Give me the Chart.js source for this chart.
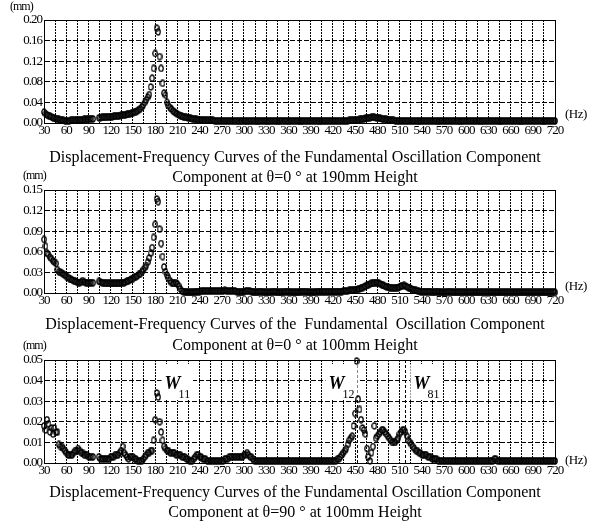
<!DOCTYPE html>
<html>
<head>
<meta charset="utf-8">
<script src="https://cdn.jsdelivr.net/npm/chart.js@4/dist/chart.umd.min.js"></script>
<style>
  body { margin: 0; background: #fff; }
  #wrap { position: relative; width: 591px; height: 522px; overflow: hidden; }
  #wrap canvas { position: absolute; left: 0; }
</style>
</head>
<body>
<div id="wrap">
  <canvas id="c190" width="591" height="190" style="top:0px"></canvas>
  <canvas id="c100" width="591" height="190" style="top:170px"></canvas>
  <canvas id="c90" width="591" height="182" style="top:340px"></canvas>
</div>
<script>
// frequency sweep, 30 to 720 Hz in 2 Hz steps
let freqHz = []
for (let f = 30; f <= 720; f += 2) freqHz.push(f)

// displacement (mm), theta = 0 deg, 190 mm height
let amp190 = [
  0.021, 0.018, 0.016, 0.014, 0.013, 0.012, 0.010, 0.009, 0.008, 0.008, // 30
  0.007, 0.006, 0.005, 0.005, 0.004, 0.004, 0.004, 0.004, 0.005, 0.005, // 50
  0.005, 0.005, 0.005, 0.006, 0.006, 0.006, 0.006, 0.007, 0.007, 0.007, // 70
  0.007, 0.008, 0.008, 0.008, null, null, null, 0.010, 0.010, 0.011,     // 90
  0.011, 0.011, 0.011, 0.012, 0.012, 0.012, 0.012, 0.013, 0.013, 0.013, // 110
  0.014, 0.014, 0.015, 0.015, 0.016, 0.016, 0.017, 0.017, 0.018, 0.019, // 130
  0.020, 0.021, 0.022, 0.024, 0.026, 0.028, 0.031, 0.035, 0.040, 0.045, // 150
  0.050, 0.055, 0.070, 0.087, 0.106, 0.135, 0.184, 0.177, 0.129, 0.106, // 170
  0.077, 0.058, 0.054, 0.040, 0.034, 0.030, 0.027, 0.024, 0.021, 0.019, // 190
  0.017, 0.016, 0.014, 0.013, 0.012, 0.011, 0.011, 0.010, 0.010, 0.009, // 210
  0.008, 0.008, 0.007, 0.007, 0.006, 0.006, 0.006, 0.005, 0.005, 0.005, // 230
  0.005, 0.005, 0.005, 0.005, 0.005, 0.004, 0.004, 0.004, 0.004, 0.004, // 250
  0.004, 0.004, 0.004, 0.004, 0.004, 0.004, 0.004, 0.004, 0.004, 0.004, // 270
  0.004, 0.004, 0.003, 0.004, 0.004, 0.004, 0.004, 0.003, 0.004, 0.004, // 290
  0.004, 0.004, 0.004, 0.004, 0.003, 0.004, 0.004, 0.004, 0.004, 0.004, // 310
  0.004, 0.003, 0.004, 0.004, 0.004, 0.004, 0.004, 0.004, 0.003, 0.004, // 330
  0.004, 0.004, 0.004, 0.004, 0.004, 0.003, 0.004, 0.004, 0.004, 0.004, // 350
  0.004, 0.004, 0.004, 0.003, 0.004, 0.004, 0.004, 0.004, 0.004, 0.004, // 370
  0.004, 0.004, 0.004, 0.004, 0.004, 0.004, 0.003, 0.004, 0.004, 0.004, // 390
  0.004, 0.004, 0.004, 0.004, 0.004, 0.004, 0.004, 0.004, 0.004, 0.004, // 410
  0.004, 0.004, 0.004, 0.004, 0.004, 0.004, 0.005, 0.005, 0.005, 0.005, // 430
  0.005, 0.005, 0.006, 0.007, 0.007, 0.008, 0.008, 0.009, 0.009, 0.010, // 450
  0.010, 0.011, 0.011, 0.011, 0.010, 0.010, 0.009, 0.009, 0.008, 0.008, // 470
  0.007, 0.007, 0.006, 0.006, 0.005, 0.005, 0.005, 0.004, 0.004, 0.004, // 490
  0.004, 0.004, 0.004, 0.004, 0.004, 0.004, 0.004, 0.004, 0.004, 0.004, // 510
  0.004, 0.004, 0.004, 0.003, 0.004, 0.004, 0.004, 0.004, 0.004, 0.004, // 530
  0.004, 0.004, 0.004, 0.004, 0.004, 0.004, 0.003, 0.004, 0.004, 0.004, // 550
  0.004, 0.004, 0.004, 0.004, 0.004, 0.004, 0.004, 0.004, 0.004, 0.004, // 570
  0.004, 0.003, 0.004, 0.004, 0.004, 0.004, 0.004, 0.004, 0.004, 0.004, // 590
  0.004, 0.004, 0.004, 0.004, 0.004, 0.003, 0.004, 0.004, 0.004, 0.004, // 610
  0.004, 0.004, 0.004, 0.004, 0.004, 0.004, 0.004, 0.004, 0.003, 0.004, // 630
  0.004, 0.004, 0.004, 0.004, 0.004, 0.004, 0.004, 0.004, 0.004, 0.004, // 650
  0.004, 0.004, 0.003, 0.004, 0.004, 0.004, 0.004, 0.004, 0.004, 0.004, // 670
  0.004, 0.004, 0.004, 0.004, 0.004, 0.004, 0.004, 0.003, 0.004, 0.004, // 690
  0.004, 0.004, 0.004, 0.004, 0.004, 0.004                              // 710
]

// displacement (mm), theta = 0 deg, 100 mm height
let amp100 = [
  0.078, 0.068, 0.058, 0.056, 0.052, 0.050, 0.047, 0.045, 0.043, 0.034, // 30
  0.031, 0.030, 0.029, 0.027, 0.026, 0.024, 0.023, 0.021, 0.020, 0.019, // 50
  0.018, 0.017, 0.016, 0.015, 0.015, 0.016, 0.018, 0.016, 0.015, 0.015, // 70
  0.015, 0.015, 0.015, 0.015, null, null, null, 0.017, 0.016, 0.015,     // 90
  0.015, 0.014, 0.014, 0.014, 0.014, 0.014, 0.014, 0.014, 0.014, 0.014, // 110
  0.014, 0.014, 0.015, 0.015, 0.015, 0.016, 0.017, 0.018, 0.019, 0.020, // 130
  0.021, 0.023, 0.024, 0.025, 0.027, 0.028, 0.031, 0.034, 0.037, 0.040, // 150
  0.045, 0.051, 0.058, 0.066, 0.081, 0.100, 0.137, 0.133, 0.093, 0.072, // 170
  0.053, 0.038, 0.031, 0.026, 0.022, 0.018, 0.015, 0.014, 0.014, 0.015, // 190
  0.013, 0.010, 0.006, 0.003, 0.002, 0.002, 0.001, 0.001, 0.001, 0.001, // 210
  0.001, 0.001, 0.002, 0.002, 0.002, 0.002, 0.003, 0.003, 0.003, 0.003, // 230
  0.003, 0.003, 0.003, 0.003, 0.003, 0.003, 0.003, 0.003, 0.003, 0.003, // 250
  0.003, 0.003, 0.004, 0.003, 0.003, 0.003, 0.003, 0.003, 0.003, 0.003, // 270
  0.002, 0.002, 0.001, 0.001, 0.002, 0.002, 0.003, 0.003, 0.003, 0.003, // 290
  0.002, 0.002, 0.001, 0.001, 0.001, 0.002, 0.002, 0.002, 0.001, 0.001, // 310
  0.001, 0.001, 0.001, 0.001, 0.002, 0.002, 0.002, 0.001, 0.001, 0.001, // 330
  0.001, 0.001, 0.002, 0.002, 0.002, 0.002, 0.001, 0.001, 0.001, 0.001, // 350
  0.001, 0.001, 0.001, 0.002, 0.002, 0.002, 0.002, 0.002, 0.001, 0.001, // 370
  0.001, 0.001, 0.001, 0.001, 0.002, 0.002, 0.002, 0.002, 0.002, 0.002, // 390
  0.002, 0.002, 0.002, 0.002, 0.002, 0.002, 0.002, 0.002, 0.002, 0.002, // 410
  0.002, 0.002, 0.003, 0.003, 0.003, 0.003, 0.004, 0.004, 0.004, 0.004, // 430
  0.005, 0.005, 0.006, 0.006, 0.007, 0.008, 0.009, 0.010, 0.011, 0.012, // 450
  0.013, 0.014, 0.014, 0.015, 0.015, 0.015, 0.014, 0.013, 0.012, 0.011, // 470
  0.010, 0.009, 0.009, 0.008, 0.008, 0.007, 0.007, 0.007, 0.008, 0.008, // 490
  0.009, 0.010, 0.010, 0.011, 0.010, 0.009, 0.008, 0.007, 0.006, 0.005, // 510
  0.004, 0.004, 0.003, 0.003, 0.002, 0.002, 0.002, 0.002, 0.002, 0.002, // 530
  0.002, 0.002, 0.001, 0.001, 0.002, 0.002, 0.002, 0.001, 0.001, 0.001, // 550
  0.001, 0.001, 0.001, 0.002, 0.002, 0.001, 0.001, 0.001, 0.001, 0.001, // 570
  0.001, 0.001, 0.001, 0.001, 0.001, 0.001, 0.001, 0.001, 0.001, 0.001, // 590
  0.001, 0.001, 0.001, 0.001, 0.001, 0.001, 0.001, 0.001, 0.001, 0.001, // 610
  0.001, 0.001, 0.001, 0.001, 0.001, 0.001, 0.001, 0.001, 0.001, 0.001, // 630
  0.001, 0.001, 0.001, 0.001, 0.001, 0.001, 0.001, 0.001, 0.001, 0.001, // 650
  0.001, 0.001, 0.001, 0.001, 0.001, 0.001, 0.001, 0.001, 0.001, 0.001, // 670
  0.001, 0.001, 0.001, 0.001, 0.001, 0.001, 0.001, 0.001, 0.001, 0.001, // 690
  0.001, 0.001, 0.001, 0.001, 0.001, 0.001                              // 710
]

// displacement (mm), theta = 90 deg, 100 mm height
let amp100t90 = [
  0.018, 0.016, 0.021, 0.019, 0.015, 0.017, 0.014, 0.017, 0.015, 0.015, // 30
  0.009, 0.008, 0.008, 0.007, 0.006, 0.005, 0.004, 0.004, 0.004, 0.004, // 50
  0.005, 0.006, 0.006, 0.007, 0.006, 0.005, 0.005, 0.004, 0.004, 0.004, // 70
  0.003, 0.003, 0.003, 0.003, null, null, null, 0.003, 0.002, 0.002,     // 90
  0.002, 0.002, 0.002, 0.002, 0.002, 0.003, 0.003, 0.003, 0.004, 0.004, // 110
  0.004, 0.005, 0.006, 0.008, 0.005, 0.004, 0.003, 0.002, 0.003, 0.003, // 130
  0.003, 0.002, 0.002, 0.001, 0.001, 0.001, 0.001, 0.002, 0.003, 0.004, // 150
  0.005, 0.005, 0.006, 0.006, 0.011, 0.021, 0.034, 0.032, 0.020, 0.015, // 170
  0.011, 0.008, 0.007, 0.006, 0.006, 0.005, 0.005, 0.005, 0.005, 0.004, // 190
  0.004, 0.004, 0.004, 0.003, 0.003, 0.003, 0.002, 0.002, 0.001, 0.001, // 210
  0.001, 0.002, 0.003, 0.004, 0.004, 0.003, 0.003, 0.002, 0.002, 0.002, // 230
  0.001, 0.001, 0.001, 0.001, 0.001, 0.001, 0.001, 0.001, 0.001, 0.001, // 250
  0.001, 0.001, 0.002, 0.002, 0.002, 0.003, 0.003, 0.003, 0.003, 0.003, // 270
  0.003, 0.003, 0.003, 0.003, 0.003, 0.004, 0.004, 0.005, 0.004, 0.003, // 290
  0.003, 0.002, 0.001, 0.001, 0.001, 0.001, 0.001, 0.001, 0.001, 0.001, // 310
  0.001, 0.001, 0.001, 0.001, 0.001, 0.001, 0.001, 0.001, 0.001, 0.001, // 330
  0.001, 0.001, 0.001, 0.001, 0.001, 0.001, 0.001, 0.001, 0.001, 0.001, // 350
  0.001, 0.001, 0.001, 0.001, 0.001, 0.001, 0.001, 0.001, 0.001, 0.001, // 370
  0.001, 0.001, 0.001, 0.001, 0.001, 0.001, 0.001, 0.001, 0.001, 0.001, // 390
  0.001, 0.001, 0.001, 0.001, 0.001, 0.001, 0.001, 0.001, 0.002, 0.002, // 410
  0.003, 0.004, 0.005, 0.006, 0.007, 0.009, 0.011, 0.012, 0.013, 0.018, // 430
  0.024, 0.0495, 0.031, 0.026, 0.021, 0.017, 0.016, 0.014, 0.007, 0.003, // 450
  0.001, 0.005, 0.008, 0.018, 0.012, 0.013, 0.014, 0.015, 0.016, 0.016, // 470
  0.015, 0.014, 0.013, 0.012, 0.011, 0.010, 0.010, 0.010, 0.011, 0.012, // 490
  0.014, 0.015, 0.016, 0.016, 0.015, 0.013, 0.011, 0.010, 0.009, 0.008, // 510
  0.007, 0.006, 0.006, 0.005, 0.005, 0.004, 0.004, 0.004, 0.004, 0.003, // 530
  0.003, 0.003, 0.002, 0.002, 0.002, 0.002, 0.001, 0.001, 0.001, 0.001, // 550
  0.001, 0.001, 0.001, 0.001, 0.001, 0.001, 0.001, 0.001, 0.001, 0.001, // 570
  0.001, 0.001, 0.001, 0.001, 0.001, 0.001, 0.001, 0.001, 0.001, 0.001, // 590
  0.001, 0.001, 0.001, 0.001, 0.001, 0.001, 0.001, 0.001, 0.001, 0.001, // 610
  0.001, 0.001, 0.001, 0.001, 0.002, 0.002, 0.001, 0.001, 0.001, 0.001, // 630
  0.001, 0.001, 0.001, 0.001, 0.001, 0.001, 0.001, 0.001, 0.001, 0.001, // 650
  0.001, 0.001, 0.001, 0.001, 0.001, 0.001, 0.001, 0.001, 0.001, 0.001, // 670
  0.001, 0.001, 0.001, 0.001, 0.001, 0.001, 0.001, 0.001, 0.001, 0.001, // 690
  0.001, 0.001, 0.001, 0.001, 0.001, 0.001                              // 710
]

// mode peaks marked on the theta = 90 plot
let modeNames = ['11', '12', '81']
let modeFreqs = [182, 452, 518]
let modeSide = ['right', 'left', 'right']
let modeLineFreqs = [452, 518]

let serif = '"Liberation Serif", "Times New Roman", serif'

// open "o" marker, a little taller than wide
let ring = document.createElement('canvas')
ring.width = 6
ring.height = 8
let rc = ring.getContext('2d')
rc.strokeStyle = '#000'
rc.lineWidth = 1.3
rc.beginPath()
rc.ellipse(3, 4, 2.2, 3.0, 0, 0, Math.PI * 2)
rc.stroke()

let decor = {
  id: 'decor',
  beforeDraw(chart) {
    // tight digits on the axes
    chart.ctx.letterSpacing = '-1px'
  },
  beforeDatasetsDraw(chart, args, o) {
    let ctx = chart.ctx
    let a = chart.chartArea
    let x = chart.scales.x
    ctx.save()
    ctx.letterSpacing = '0px'
    ctx.strokeStyle = '#000'
    ctx.lineWidth = 1

    // dashed lines through the marked peaks
    ctx.setLineDash([3, 2])
    o.lines.forEach(f => {
      let px = Math.round(x.getPixelForValue(f)) + 0.5
      ctx.beginPath()
      ctx.moveTo(px, a.top)
      ctx.lineTo(px, a.bottom)
      ctx.stroke()
    })
    ctx.setLineDash([])

    // frame
    ctx.strokeRect(Math.round(a.left) + 0.5, Math.round(a.top) + 0.5,
      Math.round(a.right - a.left), Math.round(a.bottom - a.top))

    // W labels on white boxes
    o.modes.forEach(m => {
      let px = x.getPixelForValue(m.f)
      ctx.font = 'italic bold 18px ' + serif
      let wW = ctx.measureText('W').width
      ctx.font = '12px ' + serif
      let wS = ctx.measureText(m.name).width
      let total = wW - 2 + wS
      let left = m.side === 'right' ? px + 8 : px - 2 - total
      ctx.fillStyle = '#fff'
      ctx.fillRect(left - 3, a.top + 4, total + 6, 36)
      ctx.fillStyle = '#000'
      ctx.font = 'italic bold 18px ' + serif
      ctx.fillText('W', left, a.top + 29)
      ctx.font = '12px ' + serif
      ctx.fillText(m.name, left + wW - 2, a.top + 38)
    })
    ctx.restore()
  },
  afterDraw(chart, args, o) {
    let ctx = chart.ctx
    ctx.save()
    ctx.fillStyle = '#000'
    ctx.letterSpacing = '-1px'
    ctx.font = '12px ' + serif
    ctx.textAlign = 'left'
    ctx.fillText('(mm)', o.mm[0], o.mm[1])
    ctx.letterSpacing = '-0.5px'
    ctx.font = '13px ' + serif
    ctx.fillText('(Hz)', 565, o.hzY)
    ctx.letterSpacing = '0px'
    ctx.font = '16px ' + serif
    ctx.textAlign = 'center'
    o.titles.forEach((t, i) => ctx.fillText(t, 295, o.titleY[i]))
    ctx.restore()
  }
}

function makePanel(id, amp, yMax, yStep, deco) {
  let canvas = document.getElementById(id)
  let pts = []
  freqHz.forEach((f, i) => {
    if (amp[i] !== null) pts.push({x: f, y: amp[i]})
  })
  return new Chart(canvas.getContext('2d'), {
    type: 'scatter',
    data: {
      datasets: [{
        data: pts,
        showLine: false,
        pointStyle: ring,
        pointRadius: 3,
        pointHoverRadius: 3,
        clip: false
      }]
    },
    options: {
      responsive: false,
      animation: false,
      events: [],
      layout: {padding: {left: 0, top: 20, right: 36, bottom: canvas.height - 182}},
      plugins: {
        legend: {display: false},
        tooltip: {enabled: false},
        decor: deco
      },
      scales: {
        x: {
          type: 'linear',
          min: 30,
          max: 720,
          afterFit: s => { s.height = 59 },
          ticks: {
            stepSize: 15,
            maxTicksLimit: 100,
            autoSkip: false,
            maxRotation: 0,
            padding: 0,
            color: '#000',
            font: {family: serif, size: 13},
            callback: v => Math.round(v) % 30 === 0 ? String(Math.round(v)) : ''
          },
          grid: {color: '#000', lineWidth: 1, drawTicks: false},
          border: {color: '#000', dash: [2, 1]}
        },
        y: {
          min: 0,
          max: yMax,
          afterFit: s => { s.width = 44 },
          ticks: {
            stepSize: yStep,
            padding: 2,
            color: '#000',
            font: {family: serif, size: 13},
            callback: v => v.toFixed(2)
          },
          grid: {color: '#000', lineWidth: 1, drawTicks: false},
          border: {color: '#000', dash: [5, 2]}
        }
      }
    },
    plugins: [decor]
  })
}

makePanel('c190', amp190, 0.20, 0.04, {
  mm: [10, 10], hzY: 118,
  titles: ['Displacement-Frequency Curves of the Fundamental Oscillation Component',
    'Component at θ=0 ° at 190mm Height'],
  titleY: [162, 182],
  lines: [], modes: []
})

makePanel('c100', amp100, 0.15, 0.03, {
  mm: [23, 9], hzY: 120,
  titles: ['Displacement-Frequency Curves of the  Fundamental  Oscillation Component',
    'Component at θ=0 ° at 100mm Height'],
  titleY: [159, 180],
  lines: [], modes: []
})

makePanel('c90', amp100t90, 0.05, 0.01, {
  mm: [23, 9], hzY: 124,
  titles: ['Displacement-Frequency Curves of the Fundamental Oscillation Component',
    'Component at θ=90 ° at 100mm Height'],
  titleY: [157, 177],
  lines: modeLineFreqs,
  modes: modeNames.map((n, i) => ({name: n, f: modeFreqs[i], side: modeSide[i]}))
})
</script>
</body>
</html>
